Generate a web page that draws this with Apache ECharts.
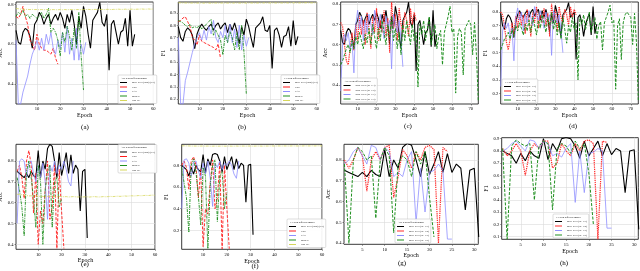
<!DOCTYPE html>
<html><head><meta charset="utf-8">
<script src="https://cdn.jsdelivr.net/npm/echarts@6/dist/echarts.min.js"></script>
<style>html,body{margin:0;padding:0;background:#fff}#c{width:640px;height:271px}</style>
</head><body><div id="c"></div>
<script>
// ---------- tick labels ----------
const X_TICKS_60 = [10,20,30,40,50,60];
const X_TICKS_70 = [10,20,30,40,50,60,70];
const X_TICKS_30 = [5,10,15,20,25,30];
const Y_TICKS_48 = [0.4,0.5,0.6,0.7,0.8];
const Y_TICKS_29 = [0.2,0.3,0.4,0.5,0.6,0.7,0.8,0.9];
const Y_TICKS_28 = [0.2,0.3,0.4,0.5,0.6,0.7,0.8];
const Y_TICKS_28B = [0.2,0.4,0.6,0.8];
const Y_TICKS_19 = [0.1,0.2,0.3,0.4,0.5,0.6,0.7,0.8,0.9];

// ---------- series names ----------
const NAMES_MODEL = ['MDI-PNN (ours) (1:3)','GPU','PAN','MMPU','Dist-PU'];
const NAMES_RATIO = ['MDI-PNN (ac=1:3)','MDI-PNN (ac=1:5)','MDI-PNN (ac=1:7)','MDI-PNN (ac=1:9)'];

// ---------- (a) Acc, dataset 1 ----------
const accA_mdi = [0.67,0.61,0.60,0.66,0.68,0.67,0.64,0.58,0.70,0.72,0.76,0.74,0.70,0.73,0.75,0.70,0.73,0.75,0.72,0.76,0.73,0.68,0.75,0.71,0.77,0.70,0.60,0.74,0.68,0.79,0.74,0.65,0.58,0.72,0.74,0.76,0.81,0.71,0.69,0.75,0.47,0.70,0.72,0.66,0.60,0.66,0.67,0.73,0.59,0.77,0.59,0.65];
const accA_gpu = [0.74,0.73,0.75,0.79,0.74,0.70,0.62,0.60,0.57,0.65,0.60,0.58,0.57,0.57,0.56,0.55,0.58,0.53,0.50];
const accA_pan = [0.62,0.30,0.30,0.36,0.40,0.44,0.50,0.55,0.58,0.62,0.57,0.63,0.57,0.65,0.60,0.66,0.58,0.55,0.62,0.58,0.66,0.56,0.69,0.55,0.63,0.52,0.68,0.52,0.60,0.55,0.61];
const accA_mmpu = [0.74,0.76,0.75,0.77,0.74,0.75,0.73,0.75,0.74,0.73,0.74,0.76,0.73,0.75,0.78,0.66,0.68,0.66,0.62,0.54,0.66,0.61,0.69,0.64,0.57,0.68,0.58,0.76,0.54,0.37];
const accA_dist = [0.779,0.778,0.776,0.776,0.775,0.775,0.774,0.775,0.774,0.774,0.773,0.774,0.773,0.774,0.774,0.773,0.774,0.773,0.773,0.774,0.773,0.774,0.773,0.774,0.774,0.773,0.774,0.774,0.773,0.774,0.774,0.775,0.774,0.774,0.775,0.774,0.775,0.775,0.774,0.775,0.775,0.774,0.775,0.775,0.776,0.775,0.775,0.776,0.775,0.776,0.776,0.775,0.776,0.776,0.777,0.776,0.776,0.777,0.776,0.777];

// ---------- (b) F1, dataset 1 ----------
const f1B_mdi = [0.79,0.70,0.67,0.75,0.78,0.76,0.72,0.61,0.73,0.78,0.81,0.78,0.76,0.79,0.81,0.76,0.80,0.82,0.77,0.80,0.82,0.74,0.81,0.76,0.82,0.75,0.65,0.79,0.72,0.85,0.79,0.70,0.62,0.78,0.80,0.82,0.87,0.76,0.75,0.80,0.45,0.76,0.78,0.72,0.62,0.71,0.72,0.79,0.63,0.84,0.64,0.71];
const f1B_gpu = [0.83,0.84,0.86,0.87,0.83,0.79,0.70,0.68,0.64,0.72,0.67,0.66,0.65,0.64,0.63,0.62,0.60,0.65,0.53];
const f1B_pan = [0.70,0.16,0.16,0.35,0.42,0.50,0.58,0.65,0.70,0.74,0.68,0.76,0.68,0.79,0.73,0.84,0.70,0.66,0.75,0.70,0.80,0.66,0.81,0.66,0.77,0.62,0.80,0.60,0.72,0.63,0.70];
const f1B_mmpu = [0.84,0.83,0.82,0.80,0.79,0.81,0.78,0.79,0.78,0.80,0.77,0.79,0.81,0.83,0.85,0.72,0.76,0.72,0.68,0.56,0.72,0.66,0.75,0.70,0.60,0.74,0.60,0.80,0.58,0.24];
const f1B_dist = [0.984,0.983,0.982,0.982,0.982,0.981,0.982,0.981,0.981,0.982,0.981,0.981,0.982,0.981,0.981,0.981,0.982,0.981,0.981,0.982,0.981,0.981,0.982,0.981,0.982,0.982,0.981,0.982,0.982,0.981,0.982,0.982,0.982,0.981,0.982,0.982,0.982,0.983,0.982,0.982,0.983,0.982,0.982,0.983,0.982,0.983,0.983,0.982,0.983,0.983,0.983,0.982,0.983,0.983,0.983,0.984,0.983,0.983,0.984,0.983];

// ---------- (c) Acc, ratios, dataset 1 ----------
const accC_r5 = [0.71,0.69,0.60,0.52,0.50,0.58,0.66,0.57,0.70,0.62,0.74,0.65,0.72,0.60,0.76,0.68,0.58,0.74,0.66,0.78,0.62,0.72,0.66,0.77,0.64,0.73,0.56,0.81,0.68,0.75,0.62,0.78,0.70,0.66,0.76,0.72,0.64,0.78,0.70,0.76,0.72];
const accC_r7 = [0.37,0.60,0.65,0.62,0.66,0.58,0.62,0.46,0.70,0.77,0.68,0.74,0.62,0.72,0.66,0.75,0.70,0.65,0.77,0.72,0.68,0.75,0.70,0.63,0.74,0.69,0.72,0.48,0.75,0.71,0.66,0.72,0.62,0.49];
const accC_r9 = [0.50,0.52,0.55,0.58,0.60,0.56,0.62,0.58,0.64,0.60,0.66,0.62,0.58,0.65,0.61,0.68,0.60,0.70,0.64,0.58,0.68,0.62,0.72,0.66,0.60,0.70,0.64,0.74,0.62,0.68,0.58,0.66,0.55,0.70,0.62,0.72,0.66,0.60,0.70,0.62,0.66,0.39,0.70,0.65,0.72,0.62,0.68,0.74,0.60,0.66,0.70,0.58,0.64,0.67,0.50,0.66,0.70,0.74,0.79,0.66,0.68,0.36,0.64,0.68,0.66,0.45,0.68,0.70,0.72,0.70,0.55,0.71,0.55,0.32];

// ---------- (d) F1, ratios, dataset 1 ----------
const f1D_r5 = [0.80,0.78,0.70,0.58,0.52,0.60,0.72,0.62,0.77,0.68,0.80,0.70,0.78,0.64,0.82,0.74,0.62,0.80,0.72,0.84,0.68,0.78,0.72,0.83,0.70,0.79,0.62,0.86,0.74,0.82,0.66,0.84,0.76,0.72,0.82,0.78,0.70,0.84,0.76,0.82,0.78];
const f1D_r7 = [0.25,0.66,0.72,0.68,0.72,0.62,0.68,0.44,0.76,0.83,0.74,0.80,0.66,0.78,0.72,0.81,0.76,0.70,0.84,0.78,0.74,0.81,0.76,0.68,0.80,0.74,0.78,0.48,0.81,0.77,0.72,0.78,0.66,0.50];
const f1D_r9 = [0.52,0.56,0.60,0.62,0.65,0.60,0.67,0.62,0.70,0.66,0.72,0.68,0.63,0.71,0.66,0.74,0.65,0.76,0.70,0.63,0.74,0.68,0.78,0.72,0.65,0.76,0.70,0.80,0.67,0.74,0.63,0.72,0.60,0.76,0.67,0.57,0.70,0.65,0.76,0.67,0.72,0.30,0.76,0.71,0.78,0.67,0.74,0.80,0.65,0.72,0.76,0.60,0.70,0.73,0.52,0.72,0.76,0.80,0.85,0.72,0.74,0.23,0.70,0.75,0.45,0.72,0.78,0.80,0.81,0.76,0.56,0.79,0.58,0.15];

// ---------- (e) Acc, dataset 2 ----------
const accE_mdi = [0.75,0.74,0.73,0.72,0.74,0.72,0.75,0.73,0.72,0.85,0.72,0.80,0.76,0.86,0.88,0.87,0.80,0.72,0.84,0.73,0.78,0.84,0.74,0.83,0.74,0.78,0.76,0.56,0.75,0.76,0.43];
const accE_gpu = [0.75,0.78,0.72,0.62,0.80,0.85,0.78,0.55,0.74,0.40,0.56,0.50,0.66,0.80,0.52,0.58,0.78,0.38,0.76,0.56,0.38];
const accE_pan = [0.50,0.80,0.81,0.80,0.72,0.79,0.80,0.74,0.70,0.78,0.72,0.79,0.70,0.52,0.78,0.75,0.80,0.74,0.78,0.76,0.80,0.76,0.70,0.68,0.80];
const accE_mmpu = [0.72,0.66,0.58,0.44,0.75,0.80,0.72,0.62,0.48,0.78,0.70,0.40,0.66,0.75,0.78,0.48,0.70,0.72,0.58,0.62];
const accE_dist = [0.640,0.640,0.638,0.636,0.634,0.632,0.633,0.631,0.632,0.630,0.631,0.630,0.629,0.630,0.631,0.630,0.629,0.628,0.630,0.629,0.628,0.629,0.627,0.628,0.629,0.628,0.627,0.628,0.627,0.628,0.628,0.627,0.628,0.629,0.628,0.627,0.628,0.629,0.628,0.629,0.630,0.629,0.630,0.631,0.630,0.631,0.632,0.631,0.632,0.633,0.632,0.633,0.634,0.633,0.634,0.635,0.634,0.635,0.636,0.635];

// ---------- (f) F1, dataset 2 ----------
const f1F_mdi = [0.80,0.78,0.76,0.70,0.78,0.72,0.80,0.76,0.74,0.90,0.73,0.86,0.80,0.90,0.91,0.90,0.84,0.74,0.88,0.76,0.82,0.88,0.76,0.86,0.77,0.82,0.80,0.46,0.80,0.81,0.16];
const f1F_gpu = [0.80,0.84,0.78,0.58,0.84,0.88,0.80,0.50,0.76,0.05,0.40,0.35,0.64,0.85,0.40,0.50,0.82,0.03,0.80,0.40,0.03];
const f1F_pan = [0.40,0.85,0.86,0.82,0.70,0.83,0.84,0.75,0.68,0.82,0.72,0.84,0.68,0.42,0.82,0.78,0.84,0.76,0.82,0.80,0.84,0.80,0.72,0.68,0.84];
const f1F_mmpu = [0.78,0.64,0.50,0.18,0.80,0.86,0.74,0.52,0.25,0.78,0.70,0.03,0.62,0.80,0.85,0.28,0.70,0.74,0.40,0.55];
const f1F_dist = [0.980,0.980,0.979,0.979,0.978,0.978,0.978,0.977,0.978,0.978,0.977,0.978,0.977,0.977,0.978,0.977,0.977,0.978,0.977,0.977,0.978,0.977,0.977,0.978,0.977,0.978,0.978,0.977,0.978,0.978,0.977,0.978,0.978,0.978,0.977,0.978,0.978,0.978,0.979,0.978,0.978,0.979,0.978,0.979,0.979,0.978,0.979,0.979,0.979,0.978,0.979,0.979,0.980,0.979,0.979,0.980,0.979,0.980,0.980,0.979];

// ---------- (g) Acc, ratios, dataset 2 ----------
const accG_r5 = [0.80,0.76,0.80,0.86,0.82,0.65,0.80,0.84,0.80,0.86,0.87,0.62,0.72,0.85,0.82,0.76,0.84,0.80,0.86,0.87,0.85,0.40,0.86,0.84];
const accG_r7 = [0.78,0.80,0.84,0.86,0.82,0.78,0.87,0.86,0.80,0.86,0.84,0.72,0.74,0.72,0.80,0.84,0.50,0.76,0.55,0.74,0.75,0.78,0.75,0.42,0.42];
const accG_r9 = [0.78,0.40,0.80,0.86,0.84,0.80,0.82,0.52,0.80,0.86,0.82,0.45,0.78,0.82,0.80,0.72,0.84,0.78,0.84,0.62,0.43];

// ---------- (h) F1, ratios, dataset 2 ----------
const f1H_r5 = [0.82,0.76,0.80,0.86,0.80,0.60,0.80,0.86,0.82,0.88,0.88,0.66,0.70,0.86,0.80,0.76,0.86,0.80,0.88,0.89,0.86,0.08,0.88,0.87];
const f1H_r7 = [0.80,0.82,0.86,0.88,0.84,0.80,0.89,0.88,0.82,0.88,0.86,0.76,0.78,0.75,0.82,0.86,0.38,0.80,0.46,0.78,0.79,0.82,0.80,0.17,0.17];
const f1H_r9 = [0.82,0.08,0.84,0.89,0.86,0.84,0.86,0.40,0.84,0.88,0.86,0.32,0.82,0.86,0.84,0.78,0.88,0.82,0.86,0.62,0.20];

// ---------- styles ----------
const FONT = 'Liberation Serif';
const STY = {
  black:  {color:'#000000', width:1.1, type:'solid'},
  red:    {color:'#ff1a1a', width:0.9, type:[3,1.5]},
  blue:   {color:'#8f8fff', width:0.8, type:'solid'},
  green:  {color:'#1f8f1f', width:0.9, type:[3,1,1,1]},
  yellow: {color:'#d6d65a', width:0.8, type:[3,1,1,1]},
  red2:   {color:'#ff2a2a', width:1.2, type:[1.3,0.9]},
  green2: {color:'#1f8f1f', width:1.0, type:[3,1.5]}
};
const MODEL_STY = ['black','red','blue','green','yellow'];
const RATIO_STY = ['black','red2','blue','green2'];

const panels = [
  {g:[16,2,137.3,102], xr:[1,60], xt:X_TICKS_60, yr:[0.3,0.812], yt:Y_TICKS_48, yn:'Acc', xg:7, yg:10,
   cap:'(a)', cx:85, cy:127, leg:[118,75], lt:'Acc with different model',
   names:NAMES_MODEL, sty:MODEL_STY, data:[accA_mdi,accA_gpu,accA_pan,accA_mmpu,accA_dist]},
  {g:[178.3,2,138.4,102], xr:[1,60], xt:X_TICKS_60, yr:[0.16,0.99], yt:Y_TICKS_29, yn:'F1', xg:8, yg:9,
   cap:'(b)', cx:242, cy:127, leg:[281,75], lt:'F1 with different model',
   names:NAMES_MODEL, sty:MODEL_STY, data:[f1B_mdi,f1B_gpu,f1B_pan,f1B_mmpu,f1B_dist]},
  {g:[340.7,2,137.6,102], xr:[1,74], xt:X_TICKS_70, yr:[0.306,0.811], yt:Y_TICKS_48, yn:'Acc', xg:8, yg:9.4,
   cap:'(c)', cx:408, cy:126, leg:[341.5,78], lt:'Acc with different model',
   names:NAMES_RATIO, sty:RATIO_STY, data:[accA_mdi,accC_r5,accC_r7,accC_r9]},
  {g:[500.7,2,137.6,102], xr:[1,74], xt:X_TICKS_70, yr:[0.121,0.874], yt:Y_TICKS_28, yn:'F1', xg:8, yg:8.4,
   cap:'(d)', cx:573, cy:126, leg:[502,79], lt:'F1 with different model',
   names:NAMES_RATIO, sty:RATIO_STY, data:[f1B_mdi,f1D_r5,f1D_r7,f1D_r9]},
  {g:[16,144.3,139,105], xr:[0.5,60], xt:X_TICKS_60, yr:[0.376,0.88], yt:Y_TICKS_48, yn:'Acc', xg:5.5, yg:8,
   cap:'(e)', cx:85, cy:264, leg:[118,144.5], lt:'Acc with different model',
   names:NAMES_MODEL, sty:MODEL_STY, data:[accE_mdi,accE_gpu,accE_pan,accE_mmpu,accE_dist]},
  {g:[181.7,144.3,140.3,105], xr:[1,60], xt:X_TICKS_60, yr:[0.025,0.994], yt:Y_TICKS_28B, yn:'F1', xg:9, yg:10.4,
   cap:'(f)', cx:255, cy:266.5, leg:[287,219], lt:'F1 with different model',
   names:NAMES_MODEL, sty:MODEL_STY, data:[f1F_mdi,f1F_gpu,f1F_pan,f1F_mmpu,f1F_dist]},
  {g:[344,144.3,134.3,100], xr:[0.9,30.9], xt:X_TICKS_30, yr:[0.395,0.875], yt:Y_TICKS_48, yn:'Acc', xg:7, yg:7,
   cap:'(g)', cx:402, cy:263.3, leg:[395,219], lt:'Acc with different model',
   names:NAMES_RATIO, sty:RATIO_STY, data:[accE_mdi,accG_r5,accG_r7,accG_r9]},
  {g:[501.7,137.7,136.6,101.6], xr:[0.8,30.9], xt:X_TICKS_30, yr:[0.079,0.908], yt:Y_TICKS_19, yn:'F1', xg:8.7, yg:7,
   cap:'(h)', cx:564, cy:262.7, leg:[553,214], lt:'F1 with different model',
   names:NAMES_RATIO, sty:RATIO_STY, data:[f1F_mdi,f1H_r5,f1H_r7,f1H_r9]}
];

function pts(arr){ return arr.map((v,i)=>[i+1, v]); }

const option = {animation:false, backgroundColor:'#fff', grid:[], xAxis:[], yAxis:[], series:[], legend:[], graphic:[]};

panels.forEach((p,k)=>{
  option.grid.push({left:p.g[0], top:p.g[1], width:p.g[2], height:p.g[3], show:true,
    borderColor:'#222', borderWidth:0.9, backgroundColor:'#fff', containLabel:false, outerBoundsMode:'none'});
  option.xAxis.push({type:'value', gridIndex:k, min:p.xr[0], max:p.xr[1],
    name:'Epoch', nameLocation:'middle', nameGap:p.xg,
    nameTextStyle:{fontFamily:FONT, fontSize:6, color:'#000'},
    axisLine:{show:false},
    axisTick:{show:true, length:1.5, customValues:p.xt, lineStyle:{color:'#222', width:0.5}},
    axisLabel:{customValues:p.xt, fontFamily:FONT, fontSize:4.6, color:'#000', margin:2.5},
    splitLine:{show:true, lineStyle:{color:'#dadada', width:0.6}}});
  option.yAxis.push({type:'value', gridIndex:k, min:p.yr[0], max:p.yr[1],
    name:p.yn, nameLocation:'middle', nameGap:p.yg,
    nameTextStyle:{fontFamily:FONT, fontSize:6, color:'#000'},
    axisLine:{show:false},
    axisTick:{show:true, length:1.5, customValues:p.yt, lineStyle:{color:'#222', width:0.5}},
    axisLabel:{customValues:p.yt, fontFamily:FONT, fontSize:4.6, color:'#000', margin:2.5,
      formatter:v=>Number(v).toFixed(1)},
    splitLine:{show:true, lineStyle:{color:'#dadada', width:0.6}}});
  p.data.forEach((arr,j)=>{
    const st = STY[p.sty[j]];
    option.series.push({type:'line', name:p.names[j], xAxisIndex:k, yAxisIndex:k,
      data:pts(arr), symbol:'none', showSymbol:false, silent:true, clip:true,
      lineStyle:{color:st.color, width:st.width, type:st.type}, itemStyle:{color:st.color}});
  });
  option.legend.push({left:p.leg[0], top:p.leg[1], orient:'vertical', data:p.names,
    icon:'rect', itemWidth:7, itemHeight:1, itemGap:1.5, padding:[6,2,1.5,2], selectedMode:false,
    backgroundColor:'rgba(255,255,255,0.92)', borderColor:'#bbbbbb', borderWidth:0.5, borderRadius:1,
    textStyle:{fontFamily:FONT, fontSize:2.5, color:'#000', lineHeight:3}});
  option.graphic.push({type:'text', x:p.leg[0]+3, y:p.leg[1]+1.6, z:100,
    style:{text:p.lt, font:'2.6px "Liberation Serif"', fill:'#000'}});
  option.graphic.push({type:'text', x:p.cx, y:p.cy, z:100,
    style:{text:p.cap, font:'7px "Liberation Serif"', fill:'#000', textAlign:'center', textVerticalAlign:'middle'}});
});

const chart = echarts.init(document.getElementById('c'), null, {renderer:'canvas'});
chart.setOption(option);
</script></body></html>
